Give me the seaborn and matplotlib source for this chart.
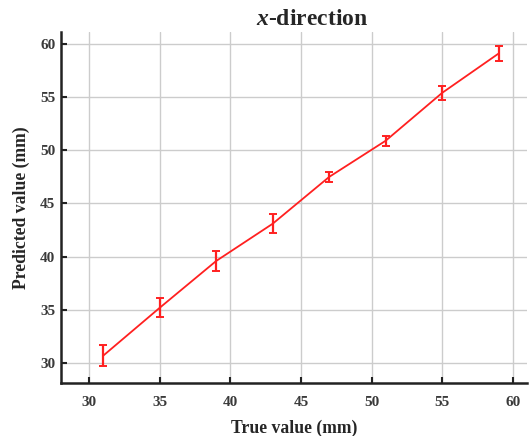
import numpy as np
import pandas as pd
import matplotlib
matplotlib.use("Agg")
import matplotlib.pyplot as plt
import seaborn as sns

# measured data, x-direction
true_value = [31, 35, 39, 43, 47, 51, 55, 59]
predicted = [30.7, 35.2, 39.6, 43.1, 47.5, 50.9, 55.4, 59.1]
pred_err = [1.0, 0.87, 0.97, 0.92, 0.47, 0.48, 0.65, 0.7]
x_ticks = [30, 35, 40, 45, 50, 55, 60]
y_ticks = [30, 35, 40, 45, 50, 55, 60]

df = pd.DataFrame({"true": true_value, "pred": predicted, "err": pred_err})

sns.set_style("ticks")
plt.rcParams["font.family"] = ["Liberation Serif", "DejaVu Serif"]
plt.rcParams["font.weight"] = "bold"
plt.rcParams["mathtext.fontset"] = "custom"
plt.rcParams["mathtext.it"] = "Liberation Serif:italic:bold"
plt.rcParams["mathtext.rm"] = "Liberation Serif:bold"

fig = plt.figure(figsize=(5.3, 4.36), dpi=100)
ax = fig.add_axes([0.115, 0.121, 0.879, 0.805])

sns.lineplot(data=df, x="true", y="pred", color="#ff2020", lw=1.3, ax=ax)
ax.errorbar(df["true"], df["pred"], yerr=df["err"], fmt="none",
            ecolor="#ff2020", elinewidth=1.6, capsize=2.6, capthick=1.4)

ax.set_xlim(28, 61)
ax.set_ylim(28.1, 61.1)
ax.set_xticks(x_ticks)
ax.set_yticks(y_ticks)
ax.grid(True, color="#cccccc", lw=1.0)
ax.set_axisbelow(True)

for side in ["top", "right"]:
    ax.spines[side].set_visible(False)
for side in ["left", "bottom"]:
    ax.spines[side].set_linewidth(1.8)
    ax.spines[side].set_color("#222222")

ax.tick_params(direction="in", length=4, width=1.5, colors="#222222",
               labelsize=11, labelcolor="#3a3a3a")
ax.tick_params(axis="x", pad=9)
ax.tick_params(axis="y", pad=4)
for lab in ax.get_xticklabels() + ax.get_yticklabels():
    lab.set_fontweight("bold")

ax.set_xlabel("True value (mm)", fontsize=12.7, fontweight="bold", labelpad=8)
ax.set_ylabel("Predicted value (mm)", fontsize=12.7, fontweight="bold", labelpad=7)
ax.set_title(r"$\mathit{x}$-direction", fontsize=17, fontweight="bold", pad=5,
             x=0.54)

fig.savefig("out.png", dpi=100)
